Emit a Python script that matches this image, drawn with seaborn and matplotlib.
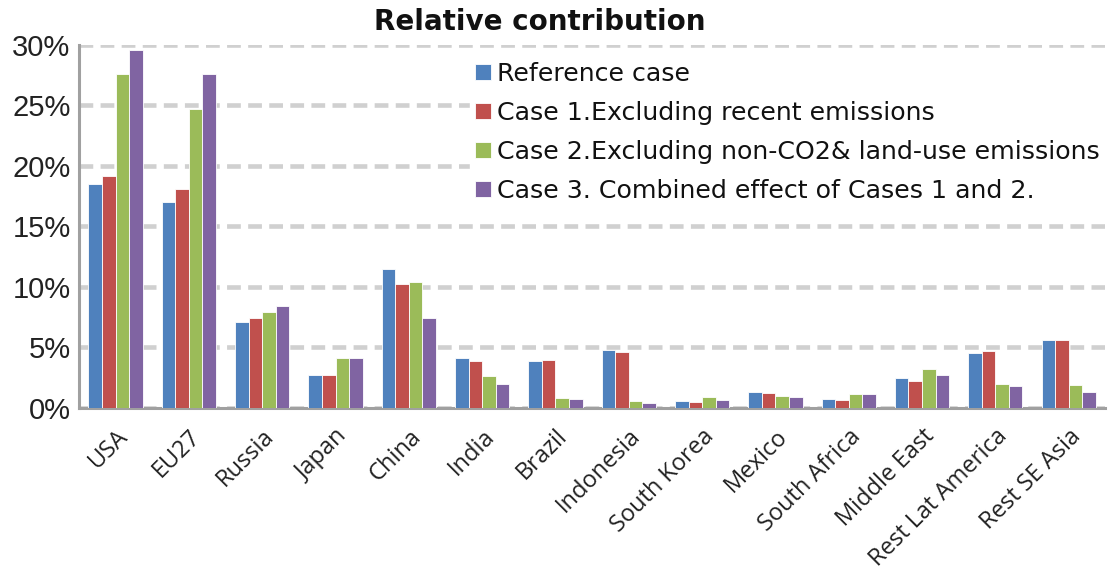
import matplotlib
matplotlib.use("Agg")
import matplotlib.pyplot as plt
import seaborn as sns
import pandas as pd
from matplotlib.ticker import FuncFormatter

regions = ["USA", "EU27", "Russia", "Japan", "China", "India", "Brazil", "Indonesia",
           "South Korea", "Mexico", "South Africa", "Middle East", "Rest Lat America", "Rest SE Asia"]
series = ["Reference case", "Case 1.Excluding recent emissions",
          "Case 2.Excluding non-CO2& land-use emissions", "Case 3. Combined effect of Cases 1 and 2."]
reference = [18.5, 17.0, 7.1, 2.7, 11.5, 4.1, 3.9, 4.75, 0.6, 1.3, 0.7, 2.5, 4.5, 5.6]
case1 = [19.2, 18.1, 7.4, 2.7, 10.2, 3.9, 3.95, 4.6, 0.5, 1.2, 0.66, 2.2, 4.7, 5.6]
case2 = [27.6, 24.7, 7.9, 4.1, 10.4, 2.6, 0.8, 0.6, 0.9, 1.0, 1.13, 3.2, 2.0, 1.85]
case3 = [29.6, 27.6, 8.4, 4.1, 7.4, 2.0, 0.7, 0.4, 0.66, 0.9, 1.13, 2.7, 1.8, 1.3]
colors = ["#4F81BD", "#C0504D", "#9BBB59", "#8064A2"]

rows = []
for s, vals in zip(series, [reference, case1, case2, case3]):
    for r, v in zip(regions, vals):
        rows.append({"Region": r, "Case": s, "Value": v})
df = pd.DataFrame(rows)

sns.set_style("white")
plt.rcParams['font.family'] = ['DejaVu Sans']

fig, ax = plt.subplots(figsize=(11.12, 5.76), dpi=100)
fig.subplots_adjust(left=0.071, right=0.994, top=0.922, bottom=0.292)

sns.barplot(data=df, x="Region", y="Value", hue="Case", palette=colors, ax=ax,
            width=0.74, edgecolor="white", linewidth=0.6, saturation=1, zorder=3)

ax.set_ylim(0, 30)
ax.set_yticks(range(0, 31, 5))
ax.yaxis.set_major_formatter(FuncFormatter(lambda v, p: f"{int(v)}%"))
ax.set_xlim(-0.5, len(regions) - 0.5)
ax.grid(axis="y", color="#d0d0d0", linestyle=(0, (3.0, 1.6)), linewidth=3.3, zorder=0)
ax.set_axisbelow(True)
for side in ["top", "right"]:
    ax.spines[side].set_visible(False)
for side in ["left", "bottom"]:
    ax.spines[side].set_color("#a0a0a0")
    ax.spines[side].set_linewidth(2.2)
ax.set_xlabel("")
ax.set_ylabel("")
ax.tick_params(axis="y", labelsize=18, colors="#222222", length=0, pad=6)
ax.tick_params(axis="x", labelsize=17, colors="#222222", length=0, pad=12)
for lab in ax.get_yticklabels():
    lab.set_family(["Liberation Sans", "DejaVu Sans"])
    lab.set_fontsize(21)
for lab in ax.get_xticklabels():
    lab.set_family(["Open Sans", "DejaVu Sans"])
plt.setp(ax.get_xticklabels(), rotation=45, ha="right", rotation_mode="anchor")

fig.text(540 / 1112, 1 - 22 / 576, "Relative contribution", fontsize=20, fontweight="bold",
         ha="center", va="center", color="#111111")

leg = ax.legend(loc="upper left", bbox_to_anchor=(0.381, 0.968), frameon=True,
                fontsize=18.2, handlelength=0.62, handleheight=0.62, handletextpad=0.25,
                labelspacing=0.6, borderpad=0.2, borderaxespad=0)
leg.get_frame().set_facecolor("white")
leg.get_frame().set_edgecolor("white")
leg.get_frame().set_alpha(1)
for t in leg.get_texts():
    t.set_color("#111111")

fig.savefig("out.png", dpi=100)
